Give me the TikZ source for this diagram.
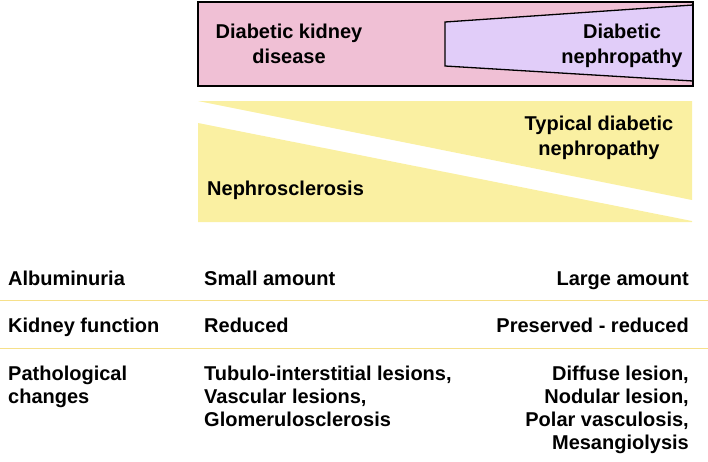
\documentclass[tikz,border=0pt]{standalone}
\usepackage{fontspec}
\setmainfont{Liberation Sans}
\definecolor{dkdpink}{HTML}{F0C0D5}
\definecolor{dnlilac}{HTML}{E1CDF9}
\definecolor{nsyellow}{HTML}{FAF0A2}
\definecolor{rowline}{HTML}{F6E08A}
\begin{document}
\begin{tikzpicture}[x=1pt,y=-1pt,
  lbl/.style={inner sep=0pt,font=\fontsize{20}{25}\selectfont\bfseries},
  row/.style={inner sep=0pt,font=\fontsize{20}{22.9}\selectfont\bfseries}]
\useasboundingbox (0,0) rectangle (708,461);

\fill[dkdpink] (198,2) rectangle (693,86);
\draw[line width=1.3pt,fill=dnlilac] (693,5) -- (445,22) -- (445,66) -- (693,81);
\draw[line width=1.8pt] (198,2) rectangle (693,86);

\fill[nsyellow] (198,101) -- (692,101) -- (692,200) -- cycle;
\fill[nsyellow] (198,123) -- (692,221) -- (692,222) -- (198,222) -- cycle;

\path (289,63) node[lbl,anchor=base,align=center] (dkd) {Diabetic kidney\\disease};
\path (622,63) node[lbl,anchor=base,align=center] (dn) {Diabetic\\nephropathy};
\path (599,155) node[lbl,anchor=base,align=center] (tdn) {Typical diabetic\\nephropathy};
\path (207,195) node[lbl,anchor=base west] (ns) {Nephrosclerosis};

\draw[rowline,line width=0.9pt] (0,300.5) -- (708,300.5);
\draw[rowline,line width=0.9pt] (0,348) -- (708,348);

\path (8,285) node[row,anchor=base west] (alb) {Albuminuria};
\path (204,285) node[row,anchor=base west] (albsmall) {Small amount};
\path (689,285) node[row,anchor=base east] (alblarge) {Large amount};

\path (8,332) node[row,anchor=base west] (kf) {Kidney function};
\path (204,332) node[row,anchor=base west] (kfred) {Reduced};
\path (689,332) node[row,anchor=base east] (kfpres) {Preserved - reduced};

\path (8,403) node[row,anchor=base west,align=left] (pc) {Pathological\\changes};
\path (204,426) node[row,anchor=base west,align=left] (pcns) {Tubulo-interstitial lesions,\\Vascular lesions,\\Glomerulosclerosis};
\path (689,449) node[row,anchor=base east,align=right] (pcdn) {Diffuse lesion,\\Nodular lesion,\\Polar vasculosis,\\Mesangiolysis};

\end{tikzpicture}
\end{document}
